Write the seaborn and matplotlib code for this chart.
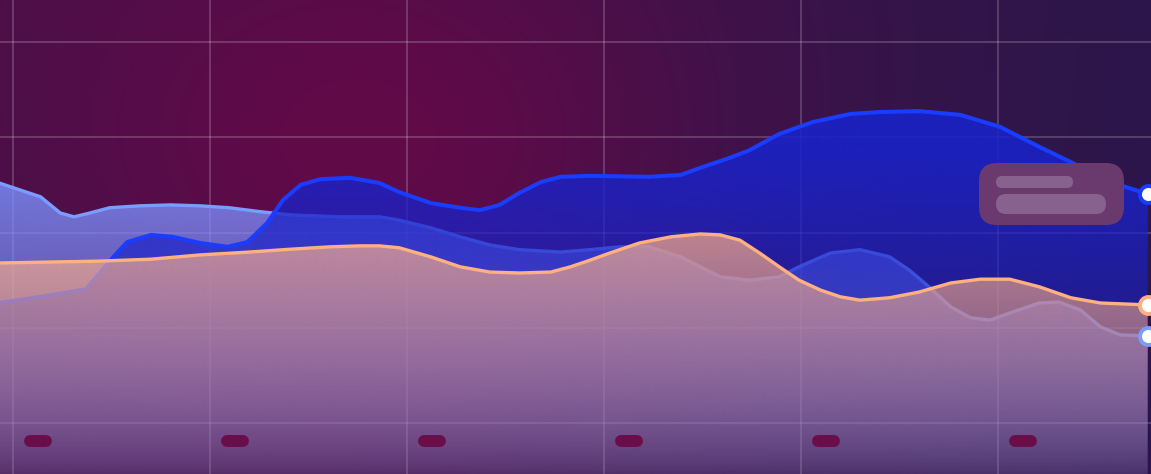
import numpy as np
import matplotlib
matplotlib.use("Agg")
import matplotlib.pyplot as plt
import seaborn as sns
from matplotlib.patches import FancyBboxPatch

sns.set_style("dark")

# data (x in grid steps, y in chart units)
blue_x = [-0.07, 0.14, 0.37, 0.44, 0.51, 0.58, 0.70, 0.81, 0.95, 1.09, 1.19, 1.29, 1.37,
          1.46, 1.56, 1.71, 1.86, 1.96, 2.12, 2.27, 2.37, 2.47, 2.57, 2.68, 2.78, 2.93,
          3.23, 3.39, 3.49, 3.64, 3.74, 3.89, 4.06, 4.25, 4.40, 4.60, 4.81, 5.01, 5.21,
          5.42, 5.57, 5.76]
blue_y = [45.2, 46.5, 48.1, 51.5, 54.9, 58.0, 59.5, 59.1, 57.8, 57.0, 58.0, 62.0, 66.8,
          70.0, 71.2, 71.5, 70.4, 68.5, 66.2, 65.2, 64.7, 65.8, 68.3, 70.6, 71.7, 71.9,
          71.7, 72.1, 73.6, 75.7, 77.3, 80.7, 83.2, 84.9, 85.3, 85.5, 84.7, 82.2, 78.0,
          73.8, 70.6, 68.1]

lav_x = [-0.07, 0.14, 0.24, 0.31, 0.39, 0.49, 0.64, 0.80, 0.95, 1.10, 1.25, 1.41, 1.66,
         1.86, 1.96, 2.12, 2.27, 2.42, 2.57, 2.78, 2.93, 3.08, 3.23, 3.39, 3.49, 3.59,
         3.74, 3.89, 3.99, 4.15, 4.30, 4.45, 4.55, 4.65, 4.76, 4.86, 4.96, 5.06, 5.21,
         5.31, 5.42, 5.52, 5.62, 5.76]
lav_y = [70.4, 67.5, 64.1, 63.3, 64.1, 65.2, 65.6, 65.8, 65.6, 65.2, 64.4, 63.7, 63.3,
         63.3, 62.6, 61.0, 59.1, 57.4, 56.4, 55.9, 56.4, 57.0, 57.0, 54.9, 52.8, 50.7,
         50.0, 50.7, 52.8, 55.7, 56.4, 54.9, 52.1, 48.6, 44.4, 42.1, 41.6, 43.1, 45.2,
         45.4, 43.7, 40.2, 38.5, 38.3]

orange_x = [-0.07, 0.44, 0.70, 0.95, 1.20, 1.41, 1.61, 1.76, 1.86, 1.96, 2.12, 2.27, 2.42,
            2.57, 2.73, 2.83, 2.93, 3.03, 3.18, 3.34, 3.49, 3.59, 3.69, 3.79, 3.89, 3.99,
            4.10, 4.20, 4.30, 4.45, 4.60, 4.76, 4.91, 5.06, 5.21, 5.37, 5.52, 5.76]
orange_y = [53.6, 54.0, 54.4, 55.3, 55.9, 56.5, 57.0, 57.2, 57.2, 56.8, 54.9, 52.8, 51.7,
            51.5, 51.7, 52.8, 54.2, 55.7, 57.8, 59.1, 59.7, 59.5, 58.4, 55.7, 52.8, 50.0,
            47.9, 46.5, 45.8, 46.3, 47.5, 49.4, 50.2, 50.2, 48.6, 46.3, 45.2, 44.8]

x_ticks = [0, 1, 2, 3, 4, 5]
y_ticks = [20, 40, 60, 80, 100]

W, H = 1151, 474
fig = plt.figure(figsize=(W / 100, H / 100), dpi=100)
ax = fig.add_axes([0, 0, 1, 1])
x0, x1 = -0.066, 5.777
y0, y1 = 9.29, 108.83
ax.set_xlim(x0, x1)
ax.set_ylim(y0, y1)

# background: dark purple with a magenta glow
gx, gy = np.meshgrid(np.arange(W), np.arange(H))
t = gx / W
base = np.stack([72 - 28 * t, 16 + 6 * t, 72 + 2 * t], axis=-1)
dark = gy / H
base = base * (1 - 0.35 * dark[..., None]) + np.array([40, 22, 80]) * 0.35 * dark[..., None]
w = np.exp(-(((gx - 360) / 330) ** 2 + ((gy - 140) / 260) ** 2))
glow = np.array([98, 10, 72])
bg = base * (1 - w[..., None]) + glow * w[..., None]
ax.imshow(bg / 255, extent=[0, 1, 0, 1], transform=ax.transAxes, aspect="auto",
          zorder=0, interpolation="bilinear")

ax.set_xticks(x_ticks)
ax.set_yticks(y_ticks)
ax.grid(True, color="white", alpha=0.2, lw=1.3)
ax.set_axisbelow(True)
ax.tick_params(length=0, labelbottom=False, labelleft=False)
for s in ax.spines.values():
    s.set_visible(False)


def gradient_area(xs, ys, color, a_top, a_bot, z, full=78):
    poly = ax.fill_between(xs, ys, y0 - 1, facecolor="none", edgecolor="none", zorder=z)
    rgb = np.array(matplotlib.colors.to_rgb(color))
    v = np.linspace(y1, y0, 400)
    f = np.clip((v - y0) / (full - y0), 0, 1) ** 0.8
    img = np.zeros((len(v), 1, 4))
    img[..., :3] = rgb
    img[:, 0, 3] = a_bot + (a_top - a_bot) * f
    im = ax.imshow(img, extent=[min(xs), max(xs), y0, y1], aspect="auto",
                   zorder=z, interpolation="bilinear")
    im.set_clip_path(poly.get_paths()[0], transform=ax.transData)


line_kw = dict(solid_joinstyle="round", solid_capstyle="round", sort=False)

gradient_area(lav_x, lav_y, "#7c90ff", 0.88, 0.1, 2)
sns.lineplot(x=lav_x, y=lav_y, color="#7a9cff", lw=2.4, ax=ax, zorder=2.5, **line_kw)
gradient_area(blue_x, blue_y, "#1a22c8", 0.9, 0.08, 3)
sns.lineplot(x=blue_x, y=blue_y, color="#1a3cff", lw=2.9, ax=ax, zorder=3.5, **line_kw)
gradient_area(orange_x, orange_y, "#ffb088", 0.72, 0.12, 4, full=62)
sns.lineplot(x=orange_x, y=orange_y, color="#ffb080", lw=2.4, ax=ax, zorder=4.5, **line_kw)

for xs, ys, c in [(blue_x, blue_y, "#1a3cff"), (orange_x, orange_y, "#ffb080"),
                  (lav_x, lav_y, "#7a9cff")]:
    ax.scatter([xs[-1]], [ys[-1]], s=150, facecolor="white", edgecolor=c,
               linewidth=2.8, zorder=6, clip_on=False)

# placeholder tick labels
for xt in x_ticks:
    ax.plot([xt + 0.085, xt + 0.168], [16.2, 16.2], color="#6a0e4a", lw=8.6,
            solid_capstyle="round", zorder=5)


def px_box(x, y, w_, h_, r, color):
    p = FancyBboxPatch((x / W, 1 - (y + h_) / H), w_ / W, h_ / H,
                       boxstyle="round,pad=0,rounding_size=%f" % (r / W),
                       transform=fig.transFigure, facecolor=color, edgecolor="none",
                       zorder=7, mutation_aspect=W / H)
    fig.patches.append(p)


# tooltip placeholder
px_box(979, 163, 145, 62, 18, "#6a3a6e")
px_box(996, 176, 77, 12, 6, "#87628e")
px_box(996, 194, 110, 20, 10, "#87628e")

fig.savefig("out.png", dpi=100)
